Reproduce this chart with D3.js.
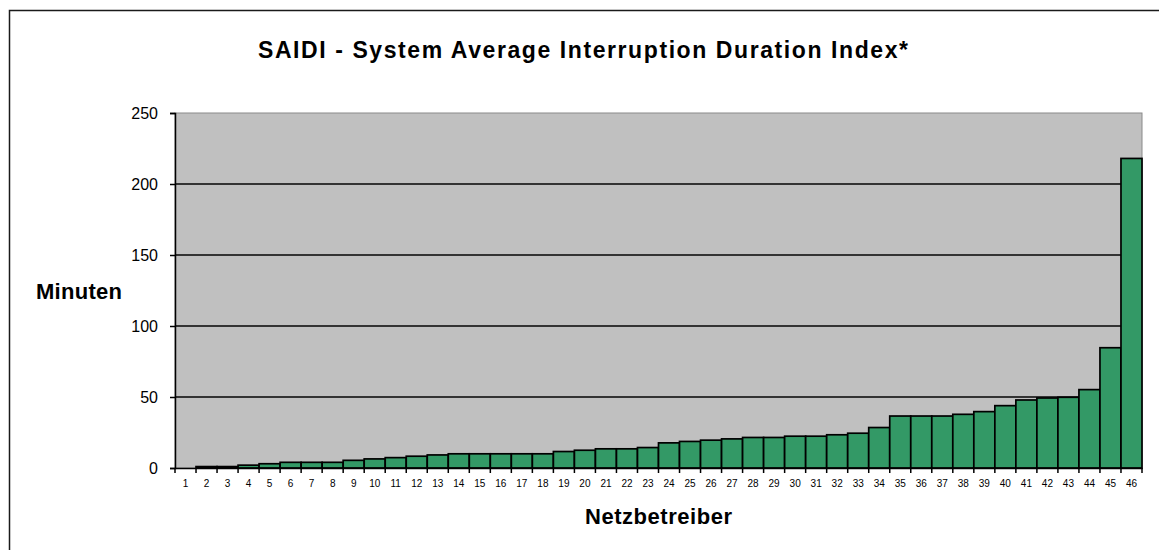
<!DOCTYPE html>
<html>
<head>
<meta charset="utf-8">
<script src="https://cdn.jsdelivr.net/npm/d3@7"></script>
<style>
html,body{margin:0;padding:0;background:#fff;}
svg{display:block;font-family:"Liberation Sans",Arial,sans-serif;}
</style>
</head>
<body>
<svg id="chart" width="1159" height="550"></svg>
<script>
const categories = d3.range(1, 47).map(String);
const values = [0, 1, 1, 2, 3, 4, 4, 4, 5.4, 6.4, 7.3, 8.3, 9.2, 10, 10, 10, 10, 10, 11.6, 12.5,
  13.5, 13.5, 14.4, 17.7, 18.7, 19.6, 20.5, 21.5, 21.5, 22.4, 22.4, 23.4, 24.5, 28.5, 36.6, 36.6,
  36.6, 37.8, 39.7, 43.9, 47.9, 49.3, 49.8, 55.2, 84.7, 218];
const yTicks = [0, 50, 100, 150, 200, 250];
const titleText = "SAIDI - System Average Interruption Duration Index*";
const yLabel = "Minuten";
const xLabel = "Netzbetreiber";

const svg = d3.select("#chart");
const L = 175, R = 1142, T = 113, B = 468;

// outer frame
svg.append("rect").attr("x", 9.5).attr("y", 10.5).attr("width", 1300).attr("height", 700)
  .attr("fill", "#fff").attr("stroke", "#1a1a1a").attr("stroke-width", 1.5);

const x = d3.scaleBand().domain(categories).range([L, R]).padding(0);
const y = d3.scaleLinear().domain([0, 250]).range([B, T]);

// plot background
svg.append("rect").attr("x", L).attr("y", T).attr("width", R - L).attr("height", B - T)
  .attr("fill", "#c0c0c0").attr("stroke", "#8a8a8a").attr("stroke-width", 1);

// gridlines
svg.append("g").selectAll("line").data(yTicks.filter(d => d > 0 && d < 250)).join("line")
  .attr("x1", L).attr("x2", R).attr("y1", d => y(d)).attr("y2", d => y(d))
  .attr("stroke", "#333").attr("stroke-width", 1.8);

// bars
svg.append("g").selectAll("rect").data(values).join("rect")
  .attr("x", (d, i) => x(categories[i]))
  .attr("width", x.bandwidth())
  .attr("y", d => y(d))
  .attr("height", d => B - y(d))
  .attr("fill", "#339966")
  .attr("stroke", "#000").attr("stroke-width", 1.7);

// y axis
const yAxis = svg.append("g").attr("transform", `translate(${L},0)`)
  .call(d3.axisLeft(y).tickValues(yTicks).tickSize(5).tickPadding(12).tickFormat(d3.format("d")));
yAxis.select(".domain").attr("stroke", "#000").attr("stroke-width", 1.5);
yAxis.selectAll(".tick line").attr("stroke", "#000").attr("stroke-width", 1.5);
yAxis.selectAll("text").attr("font-size", 16).attr("fill", "#000")
  .attr("font-family", "Liberation Sans, Arial, sans-serif");

// x axis
const xAxis = svg.append("g").attr("transform", `translate(0,${B})`)
  .call(d3.axisBottom(x).tickSize(0).tickPadding(12));
xAxis.select(".domain").attr("stroke", "#000").attr("stroke-width", 1.5);
xAxis.selectAll("text").attr("font-size", 10).attr("fill", "#000")
  .attr("font-family", "Liberation Sans, Arial, sans-serif");
// boundary tick marks
svg.append("g").selectAll("line").data(d3.range(0, categories.length + 1)).join("line")
  .attr("x1", i => L + i * x.step()).attr("x2", i => L + i * x.step())
  .attr("y1", B).attr("y2", B + 5).attr("stroke", "#000").attr("stroke-width", 1.5);

// titles
svg.append("text").attr("x", 583).attr("y", 58).attr("text-anchor", "middle")
  .attr("font-size", 23).attr("font-weight", "bold")
  .attr("textLength", 650).attr("lengthAdjust", "spacing").text(titleText);
svg.append("text").attr("x", 36).attr("y", 299)
  .attr("font-size", 22).attr("font-weight", "bold")
  .attr("textLength", 86).attr("lengthAdjust", "spacing").text(yLabel);
svg.append("text").attr("x", (L + R) / 2).attr("y", 524).attr("text-anchor", "middle")
  .attr("font-size", 22).attr("font-weight", "bold")
  .attr("textLength", 147).attr("lengthAdjust", "spacing").text(xLabel);
</script>
</body>
</html>
